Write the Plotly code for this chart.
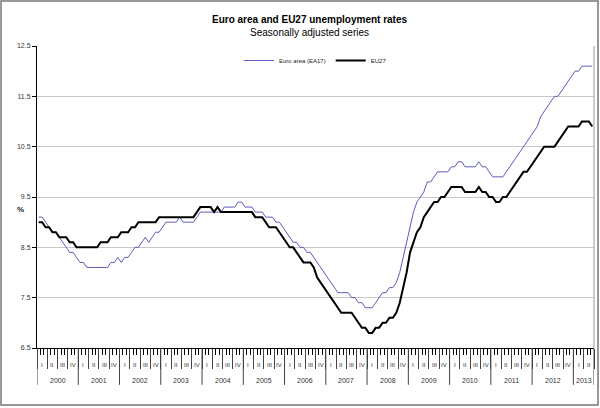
import plotly.graph_objects as go

# Monthly unemployment rates, Jan 2000 - Jun 2013 (seasonally adjusted, %)
years = [str(y) for y in range(2000, 2014)]
quarters = ["I", "II", "III", "IV"]

ea17 = [
    9.1, 9.1, 9.0, 8.9, 8.8, 8.8, 8.7, 8.6, 8.5, 8.4, 8.4, 8.3,        # 2000
    8.2, 8.2, 8.1, 8.1, 8.1, 8.1, 8.1, 8.1, 8.1, 8.2, 8.2, 8.3,        # 2001
    8.2, 8.3, 8.3, 8.4, 8.5, 8.5, 8.6, 8.7, 8.6, 8.7, 8.8, 8.8,        # 2002
    8.9, 9.0, 9.0, 9.0, 9.0, 9.1, 9.0, 9.0, 9.0, 9.0, 9.1, 9.2,        # 2003
    9.2, 9.2, 9.2, 9.2, 9.2, 9.2, 9.3, 9.3, 9.3, 9.3, 9.4, 9.4,        # 2004
    9.3, 9.3, 9.3, 9.2, 9.2, 9.2, 9.1, 9.1, 9.1, 9.0, 9.0, 8.9,        # 2005
    8.8, 8.7, 8.6, 8.6, 8.5, 8.5, 8.4, 8.4, 8.3, 8.2, 8.1, 8.0,        # 2006
    7.9, 7.8, 7.7, 7.6, 7.6, 7.6, 7.6, 7.5, 7.5, 7.4, 7.4, 7.3,        # 2007
    7.3, 7.3, 7.4, 7.5, 7.6, 7.6, 7.7, 7.7, 7.8, 8.0, 8.3, 8.6,        # 2008
    8.9, 9.2, 9.4, 9.5, 9.6, 9.8, 9.8, 9.9, 10.0, 10.0, 10.0, 10.0,    # 2009
    10.1, 10.1, 10.2, 10.2, 10.1, 10.1, 10.1, 10.1, 10.2, 10.1, 10.1, 10.0,  # 2010
    9.9, 9.9, 9.9, 9.9, 10.0, 10.1, 10.2, 10.3, 10.4, 10.5, 10.6, 10.7,      # 2011
    10.8, 10.9, 11.1, 11.2, 11.3, 11.4, 11.5, 11.5, 11.6, 11.7, 11.8, 11.9,  # 2012
    12.0, 12.0, 12.1, 12.1, 12.1, 12.1,                                     # 2013
]

eu27 = [
    9.0, 9.0, 8.9, 8.9, 8.8, 8.8, 8.7, 8.7, 8.7, 8.6, 8.6, 8.5,        # 2000
    8.5, 8.5, 8.5, 8.5, 8.5, 8.5, 8.6, 8.6, 8.6, 8.7, 8.7, 8.7,        # 2001
    8.8, 8.8, 8.8, 8.9, 8.9, 9.0, 9.0, 9.0, 9.0, 9.0, 9.0, 9.1,        # 2002
    9.1, 9.1, 9.1, 9.1, 9.1, 9.1, 9.1, 9.1, 9.1, 9.1, 9.2, 9.3,        # 2003
    9.3, 9.3, 9.3, 9.2, 9.3, 9.2, 9.2, 9.2, 9.2, 9.2, 9.2, 9.2,        # 2004
    9.2, 9.2, 9.2, 9.1, 9.1, 9.1, 9.0, 8.9, 8.9, 8.9, 8.8, 8.7,        # 2005
    8.6, 8.5, 8.5, 8.4, 8.3, 8.2, 8.2, 8.2, 8.1, 7.9, 7.8, 7.7,        # 2006
    7.6, 7.5, 7.4, 7.3, 7.2, 7.2, 7.2, 7.2, 7.1, 7.0, 6.9, 6.9,        # 2007
    6.8, 6.8, 6.9, 6.9, 7.0, 7.0, 7.1, 7.1, 7.2, 7.4, 7.7, 8.0,        # 2008
    8.4, 8.6, 8.8, 8.9, 9.1, 9.2, 9.3, 9.4, 9.4, 9.5, 9.5, 9.6,        # 2009
    9.7, 9.7, 9.7, 9.7, 9.6, 9.6, 9.6, 9.6, 9.7, 9.6, 9.6, 9.5,        # 2010
    9.5, 9.4, 9.4, 9.5, 9.5, 9.6, 9.7, 9.8, 9.9, 10.0, 10.0, 10.1,     # 2011
    10.2, 10.3, 10.4, 10.5, 10.5, 10.5, 10.5, 10.6, 10.7, 10.8, 10.9, 10.9,  # 2012
    10.9, 10.9, 11.0, 11.0, 11.0, 10.9,                                     # 2013
]

months = list(range(len(ea17)))
n = len(months)
FONT = "Liberation Sans, Arial, sans-serif"

fig = go.Figure()
fig.add_trace(go.Scatter(x=months, y=ea17, name="Euro area (EA17)", mode="lines",
                         line=dict(color="#5b5bbd", width=1)))
fig.add_trace(go.Scatter(x=months, y=eu27, name="EU27", mode="lines",
                         line=dict(color="black", width=2)))

annotations = []
shapes = []

# quarter labels under the axis
for q in range(n // 3):
    annotations.append(dict(x=3 * q + 1, y=-0.056, xref="x", yref="paper",
                            xanchor="center", yanchor="middle",
                            text=quarters[q % 4], showarrow=False,
                            font=dict(size=6, color="#333", family=FONT)))

# year labels and year separators
for i, yr in enumerate(years):
    count = min(12, n - 12 * i)
    annotations.append(dict(x=12 * i + (count - 1) / 2, y=-0.109, xref="x", yref="paper",
                            xanchor="center", yanchor="middle",
                            text=yr, showarrow=False,
                            font=dict(size=7, color="#333", family=FONT)))
    shapes.append(dict(type="line", xref="x", yref="paper", x0=12 * i - 0.5, x1=12 * i - 0.5,
                       y0=0, y1=-0.122, line=dict(color="#444", width=1)))
shapes.append(dict(type="line", xref="x", yref="paper", x0=n - 0.5, x1=n - 0.5,
                   y0=0, y1=-0.122, line=dict(color="#444", width=1)))

# right border of plot area and outer frame
shapes.append(dict(type="line", xref="paper", yref="paper", x0=1, x1=1, y0=0, y1=1,
                   line=dict(color="#999", width=1)))
shapes.append(dict(type="rect", xref="paper", yref="paper", x0=-0.0646, x1=1.0072,
                   y0=-0.1887, y1=1.149, line=dict(color="#777", width=1.5)))

annotations.append(dict(x=-0.0305, y=0.457, xref="paper", yref="paper", text="<b>%</b>",
                        xanchor="center", yanchor="middle",
                        showarrow=False, font=dict(size=8, color="#222", family=FONT)))
annotations.append(dict(x=0.49, y=1.0646, xref="paper", yref="paper",
                        xanchor="center", yanchor="middle",
                        text="<b>Euro area and EU27 unemployment rates</b><br>Seasonally adjusted series",
                        showarrow=False, font=dict(size=10, color="black", family=FONT)))

fig.update_layout(
    width=600, height=408,
    margin=dict(l=37, r=6, t=46, b=60),
    paper_bgcolor="white", plot_bgcolor="white",
    font=dict(family=FONT, color="#222"),
    showlegend=True,
    legend=dict(orientation="h", x=0.5, xanchor="center", y=1.0, yanchor="top",
                bgcolor="white", font=dict(size=6, family=FONT, color="#222"),
                itemwidth=30, tracegroupgap=0),
    annotations=annotations,
    shapes=shapes,
)

fig.update_xaxes(range=[-0.5, n - 0.5], showgrid=False, zeroline=False,
                 showline=True, linecolor="black", linewidth=1,
                 showticklabels=False,
                 ticks="outside", tickmode="linear", tick0=-0.5, dtick=3,
                 ticklen=20, tickcolor="#444", tickwidth=1,
                 minor=dict(ticks="outside", tickmode="linear", tick0=-0.5, dtick=1,
                            ticklen=6, tickcolor="black", tickwidth=1))
fig.update_yaxes(range=[6.5, 12.5], tickmode="linear", tick0=6.5, dtick=1,
                 tickformat=".1f", showgrid=True, gridcolor="#c8c8c8", gridwidth=1,
                 zeroline=False, showline=True, linecolor="black", linewidth=1,
                 ticks="outside", ticklen=4, tickcolor="black",
                 tickfont=dict(size=7, color="#333", family=FONT))

# drop the page's default body margin so the figure sits at the window origin
fig.write_html("out.html", config={"displayModeBar": False},
               post_script="document.body.style.margin='0';")
